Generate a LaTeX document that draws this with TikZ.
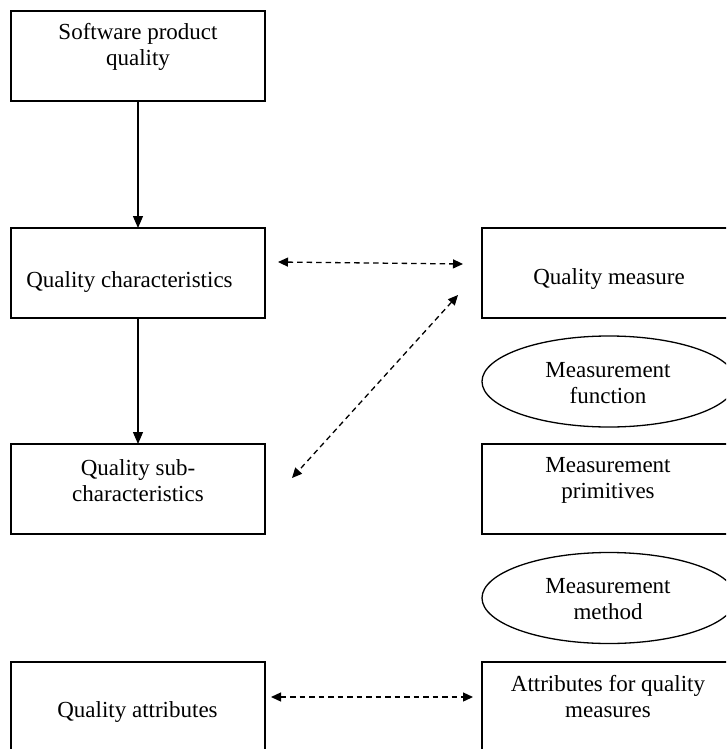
\documentclass[tikz,border=0pt]{standalone}
\usepackage{fontspec}
\setmainfont{Liberation Serif}
\usetikzlibrary{arrows.meta,shapes.geometric,calc}
\tikzset{
 box/.style={draw, line width=1.3pt, minimum width=254pt, minimum height=90pt, inner sep=0pt, outer sep=0pt},
 oval/.style={draw, ellipse, line width=1.3pt, minimum width=254pt, minimum height=91pt, inner sep=0pt, outer sep=0pt},
 lbl/.style={anchor=base, inner sep=0pt, font=\fontsize{23}{26}\selectfont},
 solidarrow/.style={line width=1.3pt, -{Triangle[length=12pt,width=10pt]}},
 dasharrow/.style={line width=1.3pt, dash pattern=on 5.5pt off 4pt, {Triangle[length=10pt,width=9pt]}-{Triangle[length=10pt,width=9pt]}},
}
\newcommand\twolines[2]{\begin{tabular}[t]{@{}c@{}}#1\\#2\end{tabular}}
\begin{document}
\begin{tikzpicture}[x=1pt, y=-1pt]
\clip (0,0) rectangle (726,749);
\fill[white] (0,0) rectangle (726,749);
% boxes
\node[box] (spq) at (138,56) {};
\node[box] (qc) at (138,273) {};
\node[box] (qsc) at (138,489) {};
\node[box] (qa) at (138,707) {};
\node[box] (qm) at (609,273) {};
\node[oval] (mf) at (609,381.5) {};
\node[box] (mp) at (609,489) {};
\node[oval] (mm) at (609,598) {};
\node[box] (afqm) at (609,707) {};
% texts
\node[lbl] (t1) at (138,40) {\twolines{Software product}{quality}};
\node[lbl] (t2) at (129.5,287) {Quality characteristics};
\node[lbl] (t3) at (138,475.5) {\twolines{Quality sub-}{characteristics}};
\node[lbl] (t4) at (137.5,717) {Quality attributes};
\node[lbl] (t5) at (609,284) {Quality measure};
\node[lbl] (t6) at (608,377.5) {\twolines{Measurement}{function}};
\node[lbl] (t7) at (608,472) {\twolines{Measurement}{primitives}};
\node[lbl] (t8) at (608,593) {\twolines{Measurement}{method}};
\node[lbl] (t9) at (608,691) {\twolines{Attributes for quality}{measures}};
% connectors
\draw[solidarrow] (spq.south) -- (qc.north);
\draw[solidarrow] (qc.south) -- (qsc.north);
\draw[dasharrow] ($(qc.east)+(13,-11)$) -- ($(qm.west)+(-19,-9)$);
\draw[dasharrow] ($(qm.west)+(-24,22)$) -- ($(qsc.east)+(27,-11)$);
\draw[dasharrow] ($(qa.east)+(6,-10)$) -- ($(afqm.west)+(-9,-10)$);
\end{tikzpicture}
\end{document}
